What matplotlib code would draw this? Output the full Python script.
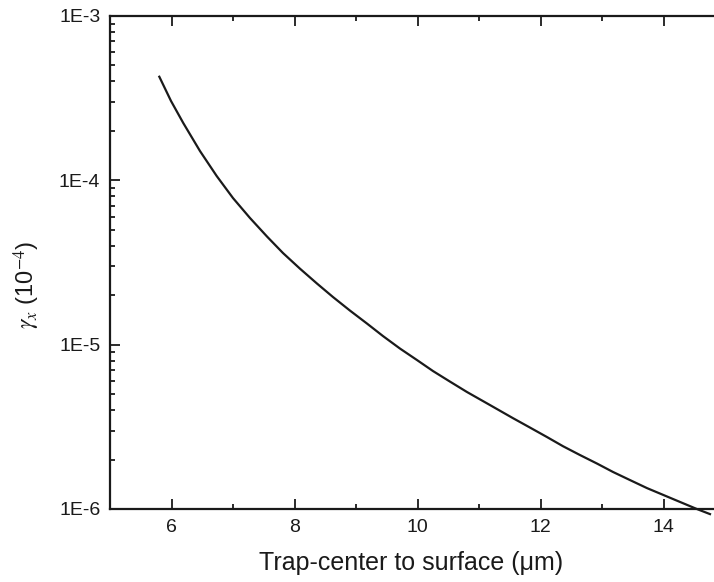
import matplotlib
matplotlib.use("Agg")
import matplotlib.pyplot as plt
from matplotlib.ticker import LogLocator, FixedLocator, NullFormatter, FixedFormatter

plt.rcParams['font.family'] = ['Liberation Sans', 'DejaVu Sans']
plt.rcParams['mathtext.fontset'] = 'stix'

# data
distance_um = [5.802, 5.992, 6.192, 6.463, 6.735, 7.000, 7.276, 7.553, 7.813, 8.089,
               8.366, 8.626, 8.902, 9.179, 9.439, 9.715, 9.992, 10.252, 10.528, 10.805,
               11.179, 11.553, 11.829, 12.106, 12.366, 12.642, 12.919, 13.179, 13.455,
               13.732, 14.138, 14.545, 14.756]
gamma_x = [4.27e-4, 3.04e-4, 2.23e-4, 1.508e-4, 1.062e-4, 7.80e-5, 5.90e-5, 4.55e-5,
           3.61e-5, 2.90e-5, 2.354e-5, 1.949e-5, 1.612e-5, 1.344e-5, 1.128e-5, 9.47e-6,
           8.06e-6, 6.91e-6, 5.96e-6, 5.15e-6, 4.29e-6, 3.57e-6, 3.13e-6, 2.74e-6,
           2.41e-6, 2.13e-6, 1.89e-6, 1.68e-6, 1.50e-6, 1.34e-6, 1.157e-6, 9.99e-7, 9.31e-7]

x_ticks = [6, 8, 10, 12, 14]
y_ticks = [1e-6, 1e-5, 1e-4, 1e-3]
y_ticklabels = ['1E-6', '1E-5', '1E-4', '1E-3']

fig = plt.figure(figsize=(7.14, 5.82), dpi=100)
ax = fig.add_axes([110/714, 73/582, 615/714, 493/582])

ax.plot(distance_um, gamma_x, color='#1a1a1a', lw=1.6, clip_on=False,
        solid_joinstyle='round')

ax.set_yscale('log')
ax.set_xlim(5, 15)
ax.set_ylim(1e-6, 1e-3)

ax.xaxis.set_major_locator(FixedLocator(x_ticks))
ax.xaxis.set_minor_locator(FixedLocator([5, 7, 9, 11, 13, 15]))
ax.yaxis.set_major_locator(FixedLocator(y_ticks))
ax.yaxis.set_major_formatter(FixedFormatter(y_ticklabels))
ax.yaxis.set_minor_locator(LogLocator(base=10, subs=range(2, 10)))
ax.yaxis.set_minor_formatter(NullFormatter())

ax.tick_params(which='both', direction='in', top=True, right=True, width=1.3,
               colors='#1a1a1a', labelsize=14, labelcolor='#1a1a1a')
ax.tick_params(which='major', length=7, pad=7)
ax.tick_params(which='minor', length=3.5)
for s in ax.spines.values():
    s.set_linewidth(1.6)
    s.set_color('#1a1a1a')

ax.set_xlabel('Trap-center to surface (μm)', fontsize=18, color='#1a1a1a')
ax.xaxis.set_label_coords(0.489, -0.085)
ax.set_ylabel(r'$\gamma_x$ (10$^{-4}$)', fontsize=17, color='#1a1a1a')
ax.yaxis.set_label_coords(-0.111, 0.455)

fig.savefig('out.png', dpi=100)
